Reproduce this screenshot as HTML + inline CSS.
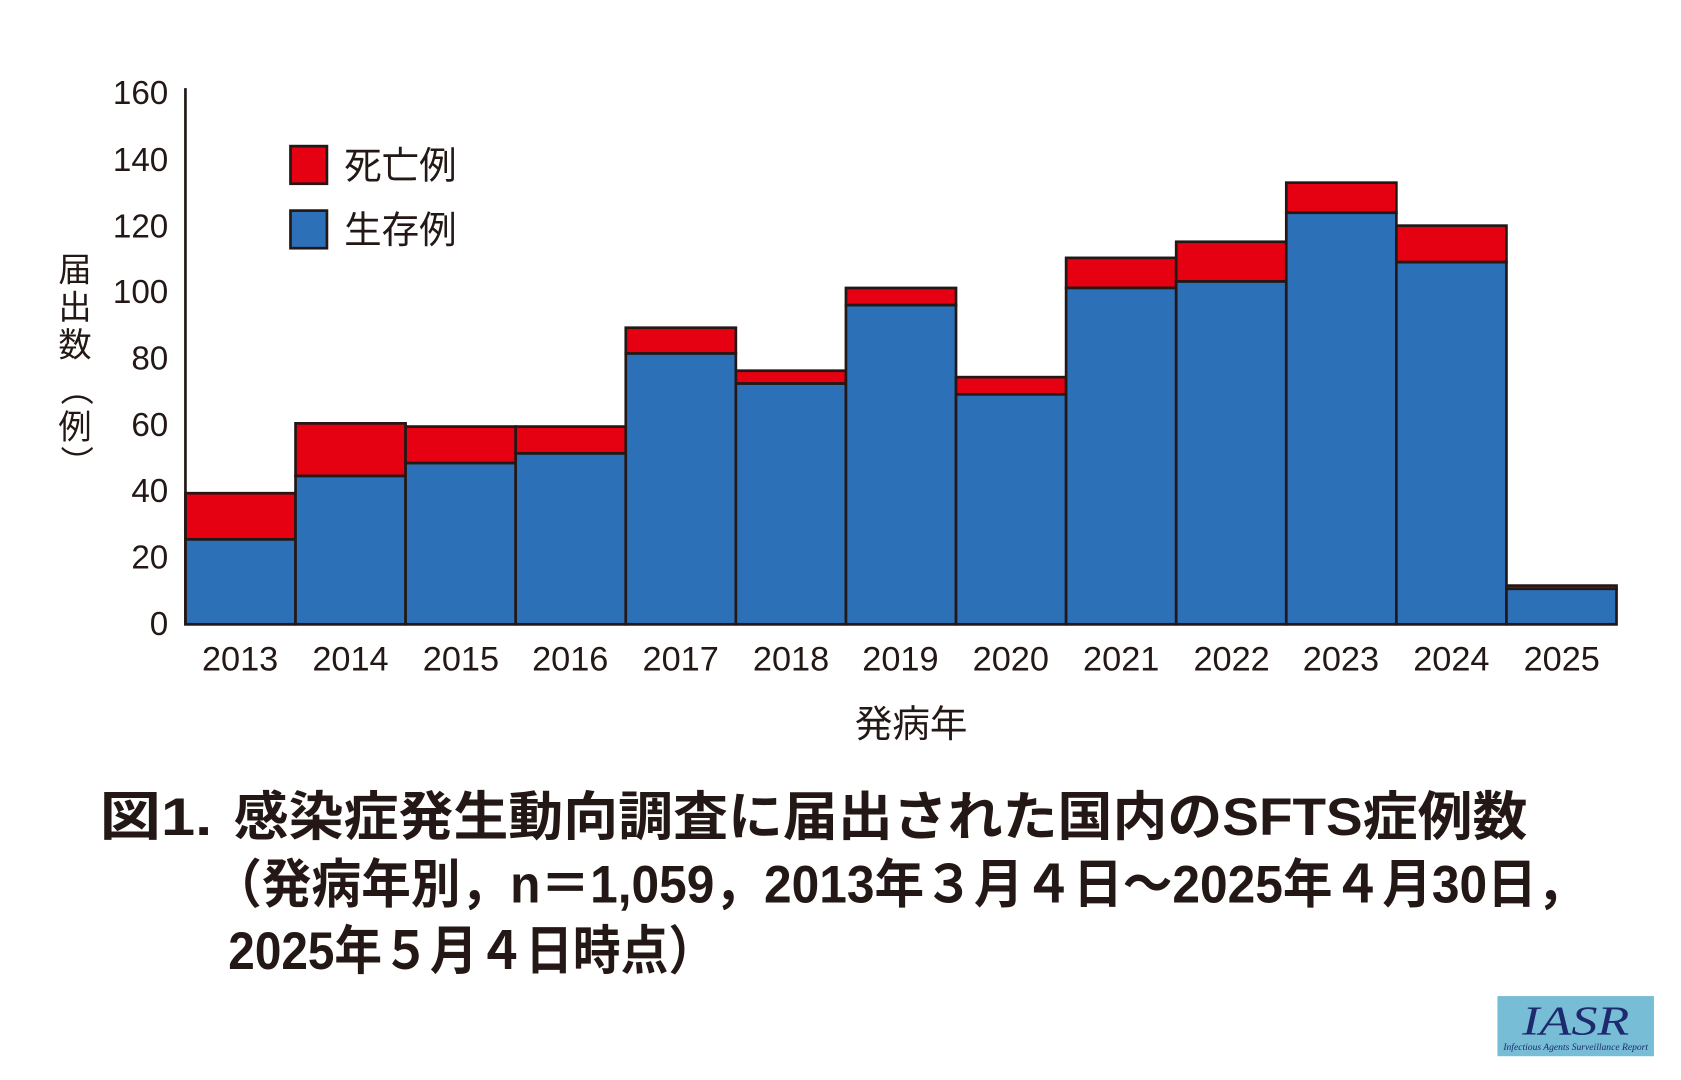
<!DOCTYPE html>
<html><head><meta charset="utf-8"><style>
html,body{margin:0;padding:0;background:#fff;}
svg{display:block;}
text{font-family:"Liberation Sans","Noto Sans CJK JP",sans-serif;fill:#231815;}
text.logo{font-family:"Liberation Serif",serif;font-style:italic;fill:#1d2a6e;}
</style></head><body>
<svg width="1681" height="1080" viewBox="0 0 1681 1080" xmlns="http://www.w3.org/2000/svg">
<g transform="scale(1.0719,1.0745)">
<g stroke="#231815" stroke-width="2.5">
<rect x="173" y="459" width="102.7" height="43" fill="#e50012"/><rect x="173" y="502" width="102.7" height="79" fill="#2c70b8"/>
<rect x="275.7" y="394" width="102.7" height="49" fill="#e50012"/><rect x="275.7" y="443" width="102.7" height="138" fill="#2c70b8"/>
<rect x="378.4" y="397" width="102.7" height="34" fill="#e50012"/><rect x="378.4" y="431" width="102.7" height="150" fill="#2c70b8"/>
<rect x="481.1" y="397" width="102.7" height="25" fill="#e50012"/><rect x="481.1" y="422" width="102.7" height="159" fill="#2c70b8"/>
<rect x="583.8" y="305" width="102.7" height="24" fill="#e50012"/><rect x="583.8" y="329" width="102.7" height="252" fill="#2c70b8"/>
<rect x="686.5" y="345" width="102.7" height="12" fill="#e50012"/><rect x="686.5" y="357" width="102.7" height="224" fill="#2c70b8"/>
<rect x="789.2" y="268" width="102.7" height="16" fill="#e50012"/><rect x="789.2" y="284" width="102.7" height="297" fill="#2c70b8"/>
<rect x="891.9" y="351" width="102.7" height="16" fill="#e50012"/><rect x="891.9" y="367" width="102.7" height="214" fill="#2c70b8"/>
<rect x="994.6" y="240" width="102.7" height="28" fill="#e50012"/><rect x="994.6" y="268" width="102.7" height="313" fill="#2c70b8"/>
<rect x="1097.3" y="225" width="102.7" height="37" fill="#e50012"/><rect x="1097.3" y="262" width="102.7" height="319" fill="#2c70b8"/>
<rect x="1200" y="170" width="102.7" height="28" fill="#e50012"/><rect x="1200" y="198" width="102.7" height="383" fill="#2c70b8"/>
<rect x="1302.7" y="210" width="102.7" height="34" fill="#e50012"/><rect x="1302.7" y="244" width="102.7" height="337" fill="#2c70b8"/>
<rect x="1405.4" y="545" width="102.7" height="3" fill="#e50012"/><rect x="1405.4" y="548" width="102.7" height="33" fill="#2c70b8"/>
<line x1="173" y1="82" x2="173" y2="582"/>
<line x1="172" y1="581" x2="1509" y2="581"/>
<rect x="271" y="136" width="34" height="35" fill="#e50012"/>
<rect x="271" y="196" width="34" height="35" fill="#2c70b8"/>
</g>
<g font-size="31" text-anchor="end">
<text x="157" y="591">0</text><text x="157" y="529">20</text><text x="157" y="467">40</text><text x="157" y="406">60</text>
<text x="157" y="344">80</text><text x="157" y="282">100</text><text x="157" y="221">120</text><text x="157" y="159">140</text><text x="157" y="97">160</text>
</g>
<g font-size="32" text-anchor="middle">
<text x="224" y="624">2013</text><text x="327" y="624">2014</text><text x="430" y="624">2015</text><text x="532" y="624">2016</text>
<text x="635" y="624">2017</text><text x="738" y="624">2018</text><text x="840" y="624">2019</text><text x="943" y="624">2020</text>
<text x="1046" y="624">2021</text><text x="1149" y="624">2022</text><text x="1251" y="624">2023</text><text x="1354" y="624">2024</text><text x="1457" y="624">2025</text>
<text x="850" y="686" font-size="35">発病年</text>
</g>
<g font-size="35"><text x="321" y="166">死亡例</text><text x="321" y="226">生存例</text></g>
<g font-size="31" text-anchor="middle">
<text x="70" y="262">届</text><text x="70" y="297">出</text><text x="70" y="332">数</text>
<text x="70" y="372" transform="rotate(90 70 362)">（</text>
<text x="70" y="408">例</text>
<text x="70" y="440" transform="rotate(90 70 430)">）</text>
</g>
<g font-size="49" font-weight="bold">
<text x="93" y="777" textLength="105" lengthAdjust="spacingAndGlyphs">図1.</text>
<text x="218" y="777" textLength="1207" lengthAdjust="spacingAndGlyphs">感染症発生動向調査に届出された国内のSFTS症例数</text>
<text x="198" y="840" textLength="1282" lengthAdjust="spacingAndGlyphs">（発病年別，n＝1,059，2013年３月４日～2025年４月30日，</text>
<text x="213" y="902" textLength="455" lengthAdjust="spacingAndGlyphs">2025年５月４日時点）</text>
</g>
<rect x="1397" y="927" width="146" height="56" fill="#78bdd6"/>
<text class="logo" x="1470" y="963" font-size="38" text-anchor="middle" textLength="100" lengthAdjust="spacingAndGlyphs">IASR</text>
<text class="logo" x="1470" y="977" font-size="9" text-anchor="middle" textLength="135" lengthAdjust="spacingAndGlyphs">Infectious Agents Surveillance Report</text>
</g>
</svg>
</body></html>
